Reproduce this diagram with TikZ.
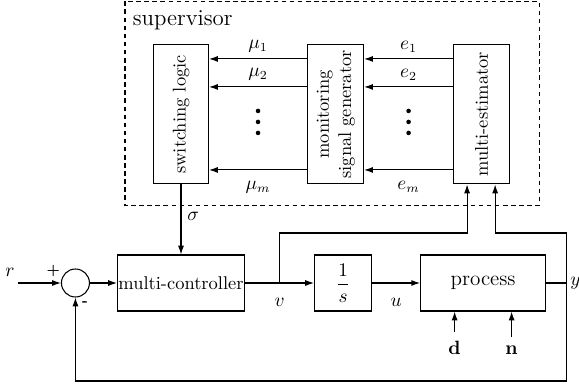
\documentclass[tikz,border=0pt]{standalone}
\usepackage{amsmath}
\usetikzlibrary{positioning, arrows.meta, calc}
\tikzset{
  block/.style={
    draw, rectangle, line width=0.6pt,
    minimum height=1.12cm, align=center,
  },
  tallblock/.style={
    draw, rectangle, line width=0.6pt,
    minimum width=1.1cm, minimum height=2.78cm, inner sep=0pt,
  },
  sumnode/.style={
    circle, draw, line width=0.6pt, minimum size=0.56cm, inner sep=0pt,
  },
  sigarrow/.style={
    -{Latex[length=5pt, width=3.4pt]}, line width=0.6pt,
  },
  sigline/.style={line width=0.6pt},
  supbox/.style={draw, line width=0.6pt, dash pattern=on 2.6pt off 2pt},
  signmark/.style={font=\footnotesize\bfseries, inner sep=0pt},
}

\begin{document}
\begin{tikzpicture}[font=\fontsize{10.5}{12.6}\selectfont]
  \useasboundingbox (0,0) rectangle (11.58,7.68);

  % === Main loop (bottom row) ===
  \node[block, minimum width=2.54cm, inner sep=0pt] (ctrl) at (3.62,2.02) {multi-controller};
  \node[sumnode, left=0.54cm of ctrl] (sum) {};
  \node[block, minimum width=1.14cm, right=1.38cm of ctrl] (integ) {$\dfrac{1}{s}$};
  \node[block, minimum width=2.5cm, right=0.96cm of integ, font=\large] (process) {process};
  \coordinate[right=0.4cm of process] (yOut);
  \coordinate[left=0.86cm of sum] (rIn);
  \coordinate (vOut) at ($(ctrl.east)!0.5!(integ.west)$);

  % === Supervisor (top row) ===
  \node[tallblock, above=1.4cm of ctrl] (switch) {\rotatebox{90}{switching logic}};
  \node[tallblock, minimum width=1.12cm, right=1.96cm of switch] (monitor)
    {\rotatebox{90}{\begin{tabular}{@{}c@{}}monitoring\\signal generator\end{tabular}}};
  \node[tallblock, minimum width=1.12cm, right=1.78cm of monitor] (estim) {\rotatebox{90}{multi-estimator}};

  \coordinate (supNW) at ($(switch.north west)+(-0.56,0.86)$);
  \coordinate (supSE) at ($(estim.south east)+(0.58,-0.42)$);
  \draw[supbox] (supNW) rectangle (supSE);
  \node[anchor=base west, inner sep=0pt, font=\fontsize{13}{15}\selectfont] (supLabel)
    at ($(supNW)+(0.15,-0.48)$) {supervisor};

  % === Arrows inside the supervisor ===
  \draw[sigarrow] ([yshift=1.11cm]monitor.west) -- node[above] {$\mu_1$} ([yshift=1.11cm]switch.east);
  \draw[sigarrow] ([yshift=0.55cm]monitor.west) -- node[above] {$\mu_2$} ([yshift=0.55cm]switch.east);
  \draw[sigarrow] ([yshift=-1.11cm]monitor.west) -- node[below=3pt] {$\mu_m$} ([yshift=-1.11cm]switch.east);
  \draw[sigarrow] ([yshift=1.11cm]estim.west) -- node[above] {$e_1$} ([yshift=1.11cm]monitor.east);
  \draw[sigarrow] ([yshift=0.55cm]estim.west) -- node[above] {$e_2$} ([yshift=0.55cm]monitor.east);
  \draw[sigarrow] ([yshift=-1.11cm]estim.west) -- node[below=3pt] {$e_m$} ([yshift=-1.11cm]monitor.east);

  \coordinate (dotsL) at ($(switch.east)!0.5!(monitor.west)+(0,-0.15)$);
  \coordinate (dotsR) at ($(monitor.east)!0.5!(estim.west)+(0,-0.15)$);
  \foreach \dy in {-0.22,0,0.22} {
    \fill ($(dotsL)+(0,\dy)$) circle (1.3pt);
    \fill ($(dotsR)+(0,\dy)$) circle (1.3pt);
  }

  % === Arrows: main loop ===
  \draw[sigarrow] (rIn) -- (sum);
  \node (rLabel) at ($(rIn)+(-0.16,0.22)$) {$r$};
  \node[signmark] (plus) at ($(sum)+(-0.44,0.24)$) {+};
  \node[signmark] (minus) at ($(sum)+(0.19,-0.42)$) {-};
  \draw[sigarrow] (sum) -- (ctrl);
  \draw[sigarrow] (ctrl) -- (integ);
  \node[below=5pt] (vLabel) at (vOut) {$v$};
  \draw[sigarrow] (integ) -- node[below=5pt] (uLabel) {$u$} (process);
  \draw[sigline] (process) -- (yOut);
  \node[anchor=west, inner sep=0pt] (yLabel) at ($(yOut)+(0.08,0)$) {$y$};
  \draw[sigarrow] (switch) -- node[right, pos=0.45] (sigmaLabel) {$\sigma$} (ctrl);

  % === Feedback paths ===
  \coordinate (fbLow) at ($(yOut)+(0,-1.96)$);
  \coordinate (fbHigh) at ($(yOut)+(0,1.0)$);
  \draw[sigarrow] (yOut) -- (fbLow) -| (sum.south);
  \draw[sigarrow] (yOut) -- (fbHigh) -| ([xshift=-0.3cm]estim.south east);
  \draw[sigarrow] (vOut) -- (vOut |- fbHigh) -| ([xshift=0.28cm]estim.south west);

  % === Disturbance and noise ===
  \node[anchor=base, inner sep=1pt] (dIn) at ($(process.south)+(-0.57,-0.86)$) {$\mathbf{d}$};
  \node[anchor=base, inner sep=1pt] (nIn) at ($(process.south)+(0.57,-0.86)$) {$\mathbf{n}$};
  \draw[sigarrow, shorten <=4pt] (dIn) -- (dIn |- process.south);
  \draw[sigarrow, shorten <=4pt] (nIn) -- (nIn |- process.south);

\end{tikzpicture}
\end{document}
